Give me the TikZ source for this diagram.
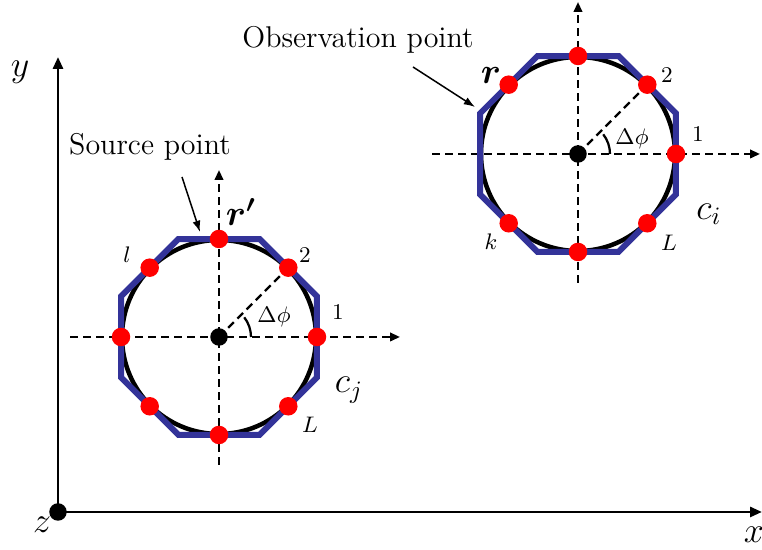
\documentclass[tikz,border=0pt]{standalone}
\usepackage{amsmath}
\usepackage{bm}
\usepackage{xcolor}
\usepackage{tikz}
\usetikzlibrary{
  arrows.meta,
  positioning,
  calc
}
\definecolor{octblue}{RGB}{51,51,153}
\tikzset{
  axisline/.style={
    -{Triangle[length=4.8pt, width=4pt]}, line width=1.1pt, draw=black
  },
  dashaxis/.style={
    -{Triangle[length=4pt, width=3.4pt]}, dash pattern=on 3.2pt off 2pt, line width=0.9pt
  },
  radline/.style={dash pattern=on 3.2pt off 2pt, line width=0.9pt},
  circline/.style={draw=black, line width=1.8pt},
  octline/.style={draw=octblue, line width=2.4pt, line join=miter},
  ptdot/.style={circle, fill=red, inner sep=0pt, minimum size=7.4pt},
  ctrdot/.style={circle, fill=black, inner sep=0pt, minimum size=7pt},
  callout/.style={font=\large, inner sep=1pt},
  callarrow/.style={-{Latex[length=4.5pt, width=3.2pt]}, line width=0.6pt},
  idx/.style={font=\small, inner sep=0pt},
  biglabel/.style={font=\Large, inner sep=0pt}
}

\begin{document}
\begin{tikzpicture}[x=0.4pt, y=0.4pt]
    \useasboundingbox (0,0) rectangle (762,550);
    % global axes
    \coordinate (orig) at (58,38);
    \coordinate (xend) at (762,38);
    \coordinate (yend) at (58,493);
    \draw[axisline] (orig) -- (xend);
    \draw[axisline] (orig) -- (yend);
    \node[ctrdot, minimum size=7pt] (origdot) at (orig) {};
    \node[biglabel] (ylab) at (20,478) {$y$};
    \node[biglabel] (xlab) at (754,15) {$x$};
    \node[biglabel] (zlab) at (42,25) {$z$};

    % source contour c_j
    \coordinate (cj) at (219,213);
    \coordinate (cjw) at (70,213);
    \coordinate (cje) at (400,213);
    \coordinate (cjs) at (219,85);
    \coordinate (cjn) at (219,380);
    \draw[dashaxis] (cjw) -- (cje);
    \draw[dashaxis] (cjs) -- (cjn);
    \draw[circline] (cj) circle (97);
    \draw[octline] ($(cj)+(22.5:106)$)
      \foreach \a in {67.5,112.5,...,337.5} { -- ($(cj)+(\a:106)$) } -- cycle;
    \foreach \k/\a in {1/0,2/45,3/90,4/135,5/180,6/225,7/270,8/315}
      \coordinate (cjp\k) at ($(cj)+(\a:98)$);
    \draw[radline] (cj) -- (cjp2);
    \draw[line width=0.9pt] ($(cj)+(32,0)$) arc (0:38:32);
    \foreach \k in {1,...,8}
      \node[ptdot] (cj\k) at (cjp\k) {};
    \node[ctrdot] (cjo) at (cj) {};
    \node[idx] (cjone) at (338,238) {1};
    \node[idx] (cjtwo) at (305,295) {2};
    \node[idx] (cjl) at (127,295) {$l$};
    \node[idx] (cjL) at (310,125) {$L$};
    \node[idx] (cjphi) at (274,233) {$\Delta\phi$};
    \node[biglabel] (cjlab) at (349,160) {$c_j$};
    \node[biglabel] (rsrc) at (241,338) {$\bm{r'}$};

    % observation contour c_i
    \coordinate (ci) at (578,396);
    \coordinate (ciw) at (432,396);
    \coordinate (cie) at (760,396);
    \coordinate (cis) at (578,267);
    \coordinate (cin) at (578,548);
    \draw[dashaxis] (ciw) -- (cie);
    \draw[dashaxis] (cis) -- (cin);
    \draw[circline] (ci) circle (97);
    \draw[octline] ($(ci)+(22.5:106)$)
      \foreach \a in {67.5,112.5,...,337.5} { -- ($(ci)+(\a:106)$) } -- cycle;
    \foreach \k/\a in {1/0,2/45,3/90,4/135,6/225,7/270,8/315}
      \coordinate (cip\k) at ($(ci)+(\a:98)$);
    \draw[radline] (ci) -- (cip2);
    \draw[line width=0.9pt] ($(ci)+(32,0)$) arc (0:38:32);
    \foreach \k in {1,2,3,4,6,7,8}
      \node[ptdot] (ci\k) at (cip\k) {};
    \node[ctrdot] (cio) at (ci) {};
    \node[idx] (cione) at (698,416) {1};
    \node[idx] (citwo) at (667,475) {2};
    \node[idx] (cik) at (491,308) {$k$};
    \node[idx] (ciL) at (669,307) {$L$};
    \node[idx] (ciphi) at (632,411) {$\Delta\phi$};
    \node[biglabel] (cilab) at (709,336) {$c_i$};
    \node[biglabel] (robs) at (491,474) {$\bm{r}$};

    % callouts
    \node[callout] (srctext) at (150,403) {Source point};
    \coordinate (srctail) at (182,373);
    \coordinate (srctip) at (200,318);
    \draw[callarrow] (srctail) -- (srctip);
    \node[callout] (obstext) at (358,510) {Observation point};
    \coordinate (obstail) at (413,483);
    \coordinate (obstip) at (475,443);
    \draw[callarrow] (obstail) -- (obstip);
\end{tikzpicture}
\end{document}
